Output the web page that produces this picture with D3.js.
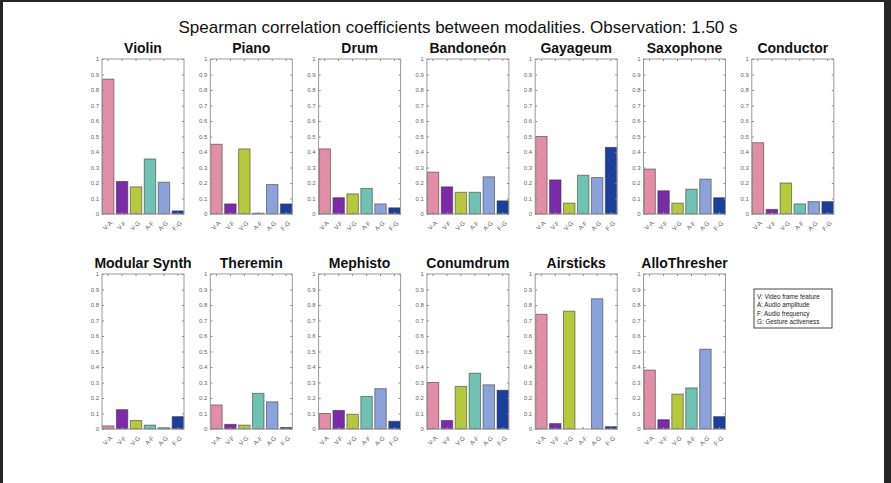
<!DOCTYPE html>
<html>
<head>
<meta charset="utf-8">
<script src="https://cdn.jsdelivr.net/npm/d3@7"></script>
<style>
  body { margin: 0; background: #fff; }
  svg { display: block; font-family: "Liberation Sans", Arial, sans-serif; }
</style>
</head>
<body>
<div id="chart"></div>
<script>
// Data
const instruments = ["Violin", "Piano", "Drum", "Bandoneón", "Gayageum", "Saxophone", "Conductor",
    "Modular Synth", "Theremin", "Mephisto", "Conumdrum", "Airsticks", "AlloThresher"];
const pairs = ["V-A", "V-F", "V-G", "A-F", "A-G", "F-G"];
const violin = [0.87, 0.21, 0.175, 0.355, 0.205, 0.02];
const piano = [0.45, 0.065, 0.42, 0.005, 0.19, 0.065];
const drum = [0.42, 0.105, 0.13, 0.165, 0.065, 0.04];
const bandoneon = [0.27, 0.175, 0.14, 0.14, 0.24, 0.085];
const gayageum = [0.50, 0.22, 0.07, 0.25, 0.235, 0.43];
const saxophone = [0.29, 0.15, 0.07, 0.16, 0.225, 0.105];
const conductor = [0.46, 0.03, 0.20, 0.065, 0.08, 0.08];
const modularSynth = [0.02, 0.125, 0.055, 0.025, 0.008, 0.08];
const theremin = [0.155, 0.03, 0.025, 0.23, 0.175, 0.01];
const mephisto = [0.10, 0.12, 0.095, 0.21, 0.26, 0.05];
const conumdrum = [0.30, 0.055, 0.275, 0.36, 0.285, 0.25];
const airsticks = [0.74, 0.035, 0.76, 0.0, 0.84, 0.015];
const alloThresher = [0.38, 0.06, 0.225, 0.265, 0.515, 0.08];
const series = [violin, piano, drum, bandoneon, gayageum, saxophone, conductor,
    modularSynth, theremin, mephisto, conumdrum, airsticks, alloThresher];
const yTicks = [0, 0.1, 0.2, 0.3, 0.4, 0.5, 0.6, 0.7, 0.8, 0.9, 1];
const legendLines = ["V: Video frame feature", "A: Audio amplitude", "F: Audio frequency", "G: Gesture activeness"];
const pairColors = ["#e28ea6", "#7b2aa9", "#b6c93c", "#70c2b2", "#8ba2da", "#1b409b"];

// Layout
const canvas = { w: 891, h: 483 };
const panel = { w: 82, h: 155, left0: 102, step: 108.3, rowTop: [59, 274] };
const perRow = 7;

const svg = d3.select("#chart").append("svg")
    .attr("width", canvas.w)
    .attr("height", canvas.h);

// dark window frame
svg.append("rect").attr("x", 0).attr("y", 0).attr("width", canvas.w).attr("height", canvas.h).attr("fill", "#252525");
svg.append("rect").attr("x", 3).attr("y", 2).attr("width", 881).attr("height", canvas.h - 2).attr("fill", "#fff");

svg.append("text")
    .attr("x", 458).attr("y", 33)
    .attr("text-anchor", "middle")
    .attr("font-size", 17)
    .attr("fill", "#111")
    .text("Spearman correlation coefficients between modalities. Observation: 1.50 s");

const x = d3.scaleBand().domain(pairs).range([0, panel.w]).paddingInner(0.18).paddingOuter(0.03);
const y = d3.scaleLinear().domain([0, 1]).range([panel.h, 0]);
const color = d3.scaleOrdinal().domain(pairs).range(pairColors);

instruments.forEach((name, i) => {
    const row = Math.floor(i / perRow);
    const col = i % perRow;
    const g = svg.append("g")
        .attr("transform", `translate(${panel.left0 + col * panel.step},${panel.rowTop[row]})`);
    const vals = series[i];

    g.append("rect")
        .attr("width", panel.w).attr("height", panel.h)
        .attr("fill", "#fff");

    g.selectAll("rect.bar")
        .data(pairs)
        .enter()
        .append("rect")
        .attr("class", "bar")
        .attr("x", d => x(d))
        .attr("y", (d, j) => y(vals[j]))
        .attr("width", x.bandwidth())
        .attr("height", (d, j) => panel.h - y(vals[j]))
        .attr("fill", d => color(d))
        .attr("stroke", "#333")
        .attr("stroke-opacity", 0.55)
        .attr("stroke-width", 1);

    // y axis (left) with labels, inward ticks
    const yAxis = d3.axisLeft(y).tickValues(yTicks).tickSize(-2).tickPadding(3)
        .tickFormat(d => d3.format("~g")(d));
    const ya = g.append("g").call(yAxis);
    ya.select(".domain").remove();
    ya.selectAll("line").attr("stroke", "#888");
    ya.selectAll("text").attr("font-size", 6).attr("fill", "#666");

    const yr = g.append("g").attr("transform", `translate(${panel.w},0)`)
        .call(d3.axisRight(y).tickValues(yTicks).tickSize(-2).tickFormat(""));
    yr.select(".domain").remove();
    yr.selectAll("line").attr("stroke", "#888");

    // x axis bottom and top
    const xa = g.append("g").attr("transform", `translate(0,${panel.h})`)
        .call(d3.axisBottom(x).tickSize(-2));
    xa.select(".domain").remove();
    xa.selectAll("line").attr("stroke", "#888");
    xa.selectAll("text")
        .attr("font-size", 6.2).attr("fill", "#666")
        .attr("text-anchor", "end")
        .attr("x", 0).attr("y", 0)
        .attr("dy", "0.35em")
        .attr("transform", "translate(3,8) rotate(-45)");

    const xt = g.append("g").call(d3.axisTop(x).tickSize(-2).tickFormat(""));
    xt.select(".domain").remove();
    xt.selectAll("line").attr("stroke", "#888");

    g.append("rect")
        .attr("width", panel.w).attr("height", panel.h)
        .attr("fill", "none")
        .attr("stroke", "#999")
        .attr("stroke-width", 1);

    g.append("text")
        .attr("x", panel.w / 2).attr("y", -6)
        .attr("text-anchor", "middle")
        .attr("font-size", 14)
        .attr("font-weight", "bold")
        .attr("fill", "#111")
        .text(name);
});

// legend
const legend = svg.append("g").attr("transform", "translate(754,289)");
legend.append("rect")
    .attr("width", 78).attr("height", 39)
    .attr("fill", "#fff").attr("stroke", "#333").attr("stroke-width", 0.9);
legend.selectAll("text")
    .data(legendLines)
    .enter()
    .append("text")
    .attr("x", 3)
    .attr("y", (d, i) => 10 + i * 8.3)
    .attr("font-size", 6.3)
    .attr("fill", "#222")
    .text(d => d);
</script>
</body>
</html>
